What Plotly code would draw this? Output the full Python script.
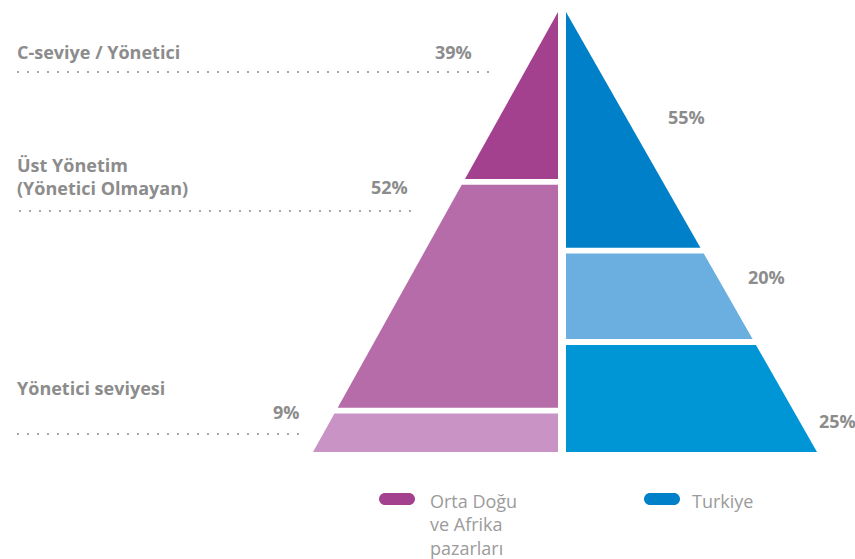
import plotly.graph_objects as go

# ---- data -------------------------------------------------------------
levels = ["C-seviye / Yönetici", "Üst Yönetim<br>(Yönetici Olmayan)", "Yönetici seviyesi"]
mea_share = [39, 52, 9]          # Orta Doğu ve Afrika pazarları, top -> bottom
turkiye_share = [55, 20, 25]     # Turkiye, top -> bottom
series_names = ["Orta Doğu<br>ve Afrika<br>pazarları", "Turkiye"]

# ---- styling ----------------------------------------------------------
W, H = 855, 559
FONT = "Open Sans"
LABEL_GREY = "#8c8c8c"
LEGEND_GREY = "#9b9b9b"
DOT_GREY = "#a8a8a8"
mea_colors = ["#A4418F", "#B56CA9", "#C993C5"]
tr_colors = ["#0080C8", "#6AAFE0", "#0096D6"]
legend_colors = ["#A4418F", "#0080C8"]

GAP = 1.35                      # vertical gap between bands, in percent units
TOTAL = 100 + 2 * GAP           # apex height
HALF_GAP = 4                    # horizontal gap between the two halves
MEA_BASE = 245                  # half-base width of the left pyramid
TR_BASE = 251                   # half-base width of the right pyramid

# pixel geometry of the plotting frame
APEX_PX, BASE_PX, CENTER_PX = 12, 452, 562
k = (BASE_PX - APEX_PX) / TOTAL
y_range = [(BASE_PX - H) / k, BASE_PX / k]
x_range = [-CENTER_PX, W - CENTER_PX]


def px(x):
    return x / W


def py(y):
    return 1 - y / H


def bands(shares):
    top, out = TOTAL, []
    for s in shares:
        out.append((top, top - s))
        top = top - s - GAP
    return out


def half_width(base, y):
    return base * (1 - y / TOTAL)


fig = go.Figure()

for sign, base, shares, colors in [(-1, MEA_BASE, mea_share, mea_colors),
                                   (1, TR_BASE, turkiye_share, tr_colors)]:
    for (y_top, y_bot), col in zip(bands(shares), colors):
        inner = sign * HALF_GAP
        xs = [inner, inner + sign * half_width(base, y_top),
              inner + sign * half_width(base, y_bot), inner, inner]
        ys = [y_top, y_top, y_bot, y_bot, y_top]
        fig.add_trace(go.Scatter(x=xs, y=ys, mode="lines", fill="toself",
                                 fillcolor=col, line=dict(color=col, width=0),
                                 hoverinfo="skip", showlegend=False))

annotations = []
shapes = []

# level labels on the left
label_pos = [52, 176, 388]
for text, yc in zip(levels, label_pos):
    annotations.append(dict(x=px(15), y=py(yc), xref="paper", yref="paper",
                            text=f"<b>{text}</b>", showarrow=False,
                            xanchor="left", yanchor="middle", align="left",
                            font=dict(family=FONT, size=18, color=LABEL_GREY)))

# left-hand percentages with dotted leaders
mea_label_pos = [(474, 52), (410, 187), (302, 412)]
leader_lines = [(17, 492, 72), (19, 414, 211), (17, 302, 434)]
for v, (xr, yc), (x0, x1, yl) in zip(mea_share, mea_label_pos, leader_lines):
    annotations.append(dict(x=px(xr), y=py(yc), xref="paper", yref="paper",
                            text=f"<b>{v}%</b>", showarrow=False,
                            xanchor="right", yanchor="middle",
                            font=dict(family=FONT, size=18, color=LABEL_GREY)))
    shapes.append(dict(type="line", xref="paper", yref="paper",
                       x0=px(x0), x1=px(x1), y0=py(yl), y1=py(yl),
                       line=dict(color=DOT_GREY, width=2.2, dash="2px,8px")))

# right-hand percentages
tr_label_pos = [(686, 117), (766, 277), (837, 421)]
for v, (xc, yc) in zip(turkiye_share, tr_label_pos):
    annotations.append(dict(x=px(xc), y=py(yc), xref="paper", yref="paper",
                            text=f"<b>{v}%</b>", showarrow=False,
                            xanchor="center", yanchor="middle",
                            font=dict(family=FONT, size=18, color=LABEL_GREY)))


# legend: rounded swatches and series names
def pill_path(x0, x1, y0, y1):
    r = (y1 - y0) / 2
    cy = (y0 + y1) / 2
    c = 0.5523 * r
    pts = []
    pts.append(f"M{px(x0 + r)},{py(y0)}")
    pts.append(f"L{px(x1 - r)},{py(y0)}")
    pts.append(f"C{px(x1 - r + c)},{py(y0)} {px(x1)},{py(cy - c)} {px(x1)},{py(cy)}")
    pts.append(f"C{px(x1)},{py(cy + c)} {px(x1 - r + c)},{py(y1)} {px(x1 - r)},{py(y1)}")
    pts.append(f"L{px(x0 + r)},{py(y1)}")
    pts.append(f"C{px(x0 + r - c)},{py(y1)} {px(x0)},{py(cy + c)} {px(x0)},{py(cy)}")
    pts.append(f"C{px(x0)},{py(cy - c)} {px(x0 + r - c)},{py(y0)} {px(x0 + r)},{py(y0)} Z")
    return " ".join(pts)


legend_items = [(379, 415, 428), (644, 680, 690)]
for name, col, (sx0, sx1, tx) in zip(series_names, legend_colors, legend_items):
    shapes.append(dict(type="path", xref="paper", yref="paper",
                       path=pill_path(sx0, sx1, 493, 505),
                       fillcolor=col, line=dict(width=0)))
    annotations.append(dict(x=px(tx), y=py(487), xref="paper", yref="paper",
                            text=name, showarrow=False,
                            xanchor="left", yanchor="top", align="left",
                            font=dict(family=FONT, size=18, color=LEGEND_GREY)))

fig.update_layout(
    width=W, height=H,
    margin=dict(l=0, r=0, t=0, b=0),
    paper_bgcolor="white", plot_bgcolor="white",
    xaxis=dict(range=x_range, visible=False, fixedrange=True),
    yaxis=dict(range=y_range, visible=False, fixedrange=True),
    annotations=annotations,
    shapes=shapes,
    showlegend=False,
)

fig.write_html("out.html")
